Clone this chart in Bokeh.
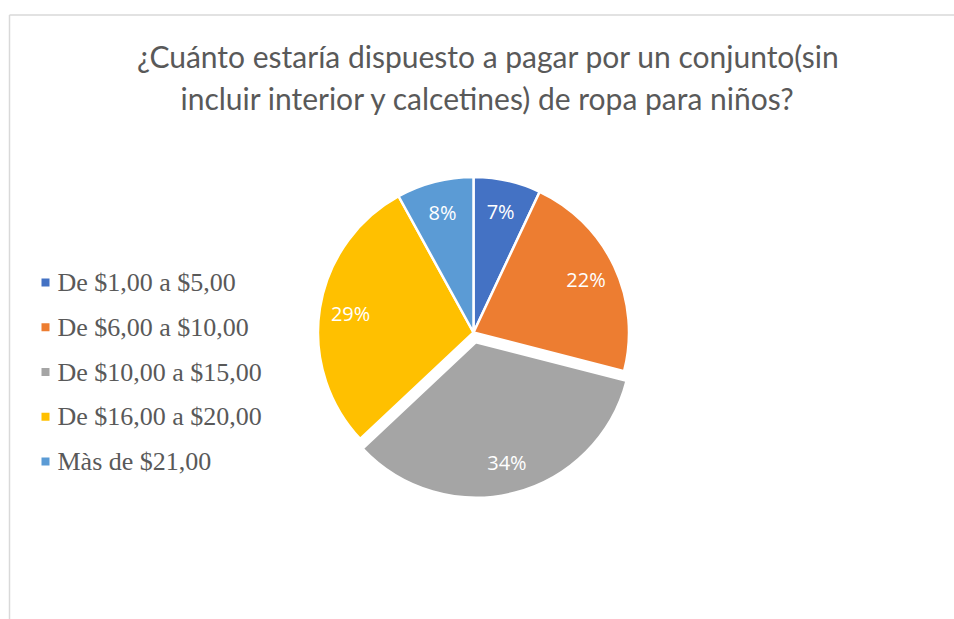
import numpy as np
from bokeh.plotting import figure
from bokeh.models import Range1d, ColumnDataSource
from bokeh.core.properties import value
from bokeh.embed import file_html
from bokeh.resources import INLINE

# ---- data ----
categories = ["De $1,00 a $5,00", "De $6,00 a $10,00", "De $10,00 a $15,00",
              "De $16,00 a $20,00", "Màs de $21,00"]
percent = [7, 22, 34, 29, 8]
colors = ["#4472C4", "#ED7D31", "#A5A5A5", "#FFC000", "#5B9BD5"]
explode = [0, 0, 10, 0, 0]
title_lines = ["¿Cuánto estaría dispuesto a pagar por un conjunto(sin",
               "incluir interior y calcetines) de ropa para niños?"]

W, H = 954, 619
p = figure(width=W, height=H, x_range=Range1d(0, W), y_range=Range1d(0, H),
           output_backend="svg", toolbar_location=None, min_border=0,
           x_axis_location=None, y_axis_location=None)
p.grid.visible = False
p.outline_line_color = None
p.background_fill_color = "white"

# chart frame (top and left edges visible)
p.segment(x0=[9, 9], y0=[604.5, 604.5], x1=[W, 9], y1=[604.5, 0],
          line_color="#d9d9d9", line_width=1.5)

# ---- pie ----
CX, CY, R = 473, 287, 155.5
frac = np.array(percent, dtype=float) / sum(percent)
cum = np.concatenate([[0.0], np.cumsum(frac)])
start = np.pi / 2 - 2 * np.pi * cum[1:]
end = np.pi / 2 - 2 * np.pi * cum[:-1]
mid = (start + end) / 2
ex = np.array(explode, dtype=float)
cx = CX + ex * np.cos(mid)
cy = CY + ex * np.sin(mid)
src = ColumnDataSource(dict(x=cx, y=cy, start=start, end=end, color=colors,
                            lx=cx + 0.8 * R * np.cos(mid),
                            ly=cy + 0.8 * R * np.sin(mid),
                            label=[f"{v}%" for v in percent]))
p.wedge(x="x", y="y", radius=R, start_angle="start", end_angle="end",
        fill_color="color", line_color="white", line_width=2.5, source=src)
p.text(x="lx", y="ly", text="label", source=src, text_color="white",
       text_font=value("Open Sans"), text_font_size="20px",
       text_align="center", text_baseline="middle")

# ---- title ----
p.text(x=[488, 488], y=[564, 522], text=title_lines, text_color="#595959",
       text_font=value("Lato"), text_font_size="30px",
       text_align="center", text_baseline="middle")

# ---- legend ----
ly0, dy = 337, 44.75
leg_y = [ly0 - i * dy for i in range(len(categories))]
p.scatter(x=[45] * len(categories), y=leg_y, marker="square", size=8,
          fill_color=colors, line_color=None)
p.text(x=[57] * len(categories), y=leg_y, text=categories, text_color="#595959",
       text_font=value("Liberation Serif"), text_font_size="26px",
       text_align="left", text_baseline="middle")

open("out.html", "w").write(file_html(p, INLINE))
